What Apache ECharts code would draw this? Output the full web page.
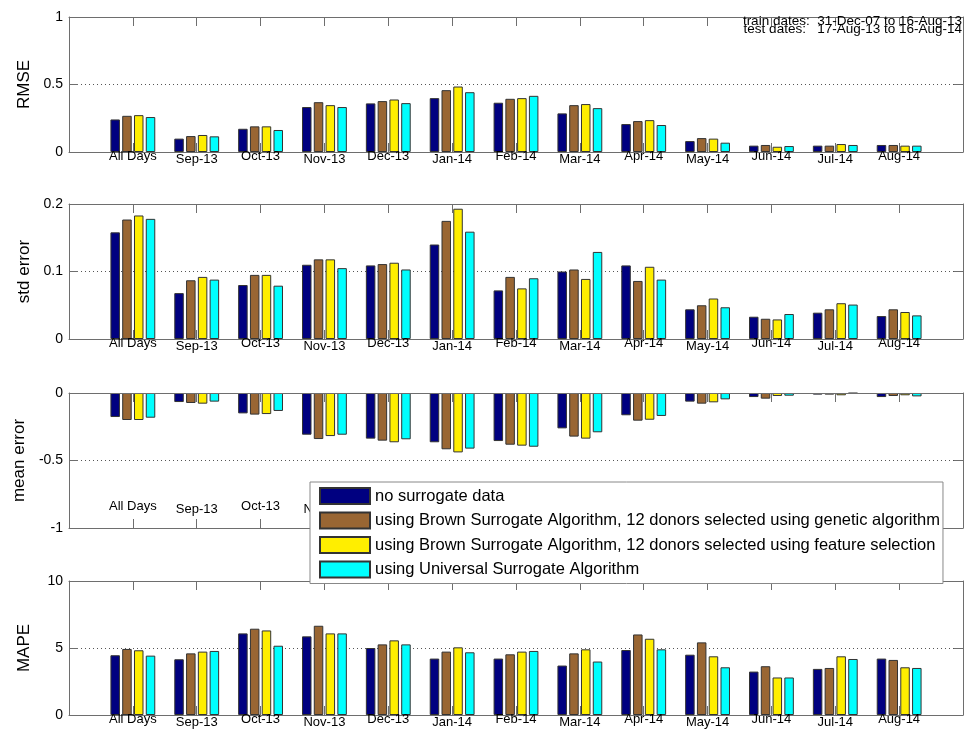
<!DOCTYPE html>
<html>
<head>
<meta charset="utf-8">
<script src="https://cdn.jsdelivr.net/npm/echarts@6/dist/echarts.min.js"></script>
<style>
  html, body { margin: 0; padding: 0; background: #fff; }
  #chart { width: 966px; height: 729px; }
</style>
</head>
<body>
<div id="chart"></div>
<script>
var categories = ['All Days', 'Sep-13', 'Oct-13', 'Nov-13', 'Dec-13', 'Jan-14', 'Feb-14',
    'Mar-14', 'Apr-14', 'May-14', 'Jun-14', 'Jul-14', 'Aug-14'];
var seriesNames = [
    'no surrogate data',
    'using Brown Surrogate Algorithm, 12 donors selected using genetic algorithm',
    'using Brown Surrogate Algorithm, 12 donors selected using feature selection',
    'using Universal Surrogate Algorithm'
];
var seriesColors = ['#000080', '#996633', '#ffee00', '#00ffff'];

// RMSE
var rmseNone = [0.241, 0.099, 0.172, 0.333, 0.360, 0.399, 0.365, 0.286, 0.207, 0.081, 0.047, 0.047, 0.052];
var rmseBrownGA = [0.268, 0.118, 0.190, 0.369, 0.377, 0.458, 0.394, 0.347, 0.229, 0.103, 0.052, 0.047, 0.052];
var rmseBrownFS = [0.273, 0.126, 0.190, 0.347, 0.389, 0.485, 0.399, 0.355, 0.236, 0.099, 0.039, 0.059, 0.047];
var rmseUniversal = [0.259, 0.116, 0.163, 0.333, 0.362, 0.443, 0.416, 0.325, 0.200, 0.069, 0.044, 0.052, 0.047];

// std error
var stdNone = [0.158, 0.068, 0.080, 0.110, 0.109, 0.140, 0.072, 0.100, 0.109, 0.044, 0.033, 0.039, 0.034];
var stdBrownGA = [0.177, 0.087, 0.095, 0.118, 0.111, 0.175, 0.092, 0.103, 0.086, 0.050, 0.030, 0.044, 0.044];
var stdBrownFS = [0.183, 0.092, 0.095, 0.118, 0.113, 0.193, 0.075, 0.089, 0.107, 0.060, 0.029, 0.053, 0.040];
var stdUniversal = [0.178, 0.088, 0.079, 0.105, 0.103, 0.159, 0.090, 0.129, 0.088, 0.047, 0.037, 0.051, 0.035];

// mean error
var meanNone = [-0.178, -0.067, -0.151, -0.309, -0.338, -0.365, -0.356, -0.262, -0.165, -0.064, -0.030, -0.012, -0.030];
var meanBrownGA = [-0.200, -0.074, -0.160, -0.341, -0.353, -0.417, -0.383, -0.323, -0.205, -0.079, -0.042, -0.012, -0.022];
var meanBrownFS = [-0.200, -0.079, -0.156, -0.319, -0.365, -0.440, -0.390, -0.338, -0.198, -0.069, -0.022, -0.017, -0.017];
var meanUniversal = [-0.183, -0.064, -0.133, -0.309, -0.343, -0.412, -0.398, -0.291, -0.170, -0.047, -0.020, -0.003, -0.025];

// MAPE
var mapeNone = [4.46, 4.16, 6.09, 5.87, 5.00, 4.21, 4.21, 3.69, 4.85, 4.50, 3.24, 3.44, 4.21];
var mapeBrownGA = [4.93, 4.60, 6.44, 6.66, 5.27, 4.73, 4.53, 4.60, 6.01, 5.42, 3.64, 3.51, 4.11];
var mapeBrownFS = [4.83, 4.73, 6.31, 6.09, 5.57, 5.05, 4.73, 4.90, 5.69, 4.38, 2.80, 4.38, 3.56];
var mapeUniversal = [4.43, 4.78, 5.17, 6.09, 5.27, 4.68, 4.78, 3.99, 4.90, 3.56, 2.80, 4.18, 3.51];

var panels = [
    { name: 'RMSE', min: 0, max: 1, interval: 0.5, data: [rmseNone, rmseBrownGA, rmseBrownFS, rmseUniversal] },
    { name: 'std error', min: 0, max: 0.2, interval: 0.1, data: [stdNone, stdBrownGA, stdBrownFS, stdUniversal] },
    { name: 'mean error', min: -1, max: 0, interval: 0.5, data: [meanNone, meanBrownGA, meanBrownFS, meanUniversal], inside: true },
    { name: 'MAPE', min: 0, max: 10, interval: 5, data: [mapeNone, mapeBrownGA, mapeBrownFS, mapeUniversal] }
];
var gridTops = [17, 204, 393, 581];
var gridHeights = [135, 135, 135, 134];

var FONT = 'Liberation Sans, Arial, sans-serif';
var frameColor = '#6e6e6e';
// one empty slot at each end so the categories sit at 1..13 of a 0..14 axis
var axisCats = [''].concat(categories, ['']);

var grids = [], xAxes = [], yAxes = [], series = [];
panels.forEach(function (p, gi) {
    grids.push({ left: 69, right: 3, top: gridTops[gi], height: gridHeights[gi] });
    xAxes.push({
        type: 'category', gridIndex: gi, position: 'bottom', data: axisCats, boundaryGap: false, z: 3,
        axisLine: { onZero: false, lineStyle: { color: frameColor } },
        axisTick: { inside: true, length: 9, interval: 0, lineStyle: { color: frameColor } },
        axisLabel: {
            interval: 0, inside: !!p.inside, margin: p.inside ? 12 : -2.5, color: '#000',
            fontFamily: FONT, fontSize: 13,
            formatter: function (v, i) { return i % 2 ? '{a|' + v + '}' : '{b|' + v + '}'; },
            rich: {
                a: { fontFamily: FONT, fontSize: 13, color: '#000', padding: [0, 0, 3, 0] },
                b: { fontFamily: FONT, fontSize: 13, color: '#000', padding: [3, 0, 0, 0] }
            }
        },
        splitLine: { show: false }
    });
    xAxes.push({
        type: 'category', gridIndex: gi, position: 'top', data: axisCats, boundaryGap: false, z: 3,
        axisLine: { onZero: false, lineStyle: { color: frameColor } },
        axisTick: { inside: true, length: 9, interval: 0, lineStyle: { color: frameColor } },
        axisLabel: { show: false },
        splitLine: { show: false }
    });
    yAxes.push({
        type: 'value', gridIndex: gi, position: 'left', min: p.min, max: p.max, interval: p.interval,
        name: p.name, nameLocation: 'middle', nameGap: 36, nameRotate: 90,
        nameTextStyle: { fontFamily: FONT, fontSize: 17, color: '#000' },
        axisLine: { show: true, onZero: false, lineStyle: { color: frameColor } },
        axisTick: { show: true, inside: true, length: 9, lineStyle: { color: frameColor } },
        axisLabel: { fontFamily: FONT, fontSize: 14, color: '#000', margin: 6 },
        splitLine: { show: true, lineStyle: { color: '#555', type: [1, 3], width: 1 } }
    });
    yAxes.push({
        type: 'value', gridIndex: gi, position: 'right', min: p.min, max: p.max, interval: p.interval,
        axisLine: { show: true, onZero: false, lineStyle: { color: frameColor } },
        axisTick: { show: true, inside: true, length: 9, lineStyle: { color: frameColor } },
        axisLabel: { show: false },
        splitLine: { show: false }
    });
    p.data.forEach(function (vals, si) {
        series.push({
            name: seriesNames[si],
            type: 'bar',
            xAxisIndex: gi * 2,
            yAxisIndex: gi * 2,
            data: [null].concat(vals, [null]),
            barWidth: 9.5,
            barGap: '24%',
            itemStyle: { color: seriesColors[si], borderColor: '#333', borderWidth: 1 },
            emphasis: { disabled: true },
            animation: false
        });
    });
});

var chart = echarts.init(document.getElementById('chart'));
chart.setOption({
    backgroundColor: '#fff',
    animation: false,
    grid: grids,
    xAxis: xAxes,
    yAxis: yAxes,
    legend: {
        data: seriesNames,
        orient: 'vertical',
        left: 310,
        top: 482,
        z: 20,
        icon: 'rect',
        itemWidth: 50,
        itemHeight: 16,
        itemGap: 6.5,
        padding: [5, 3, 5, 9],
        backgroundColor: '#fff',
        borderColor: '#888',
        borderWidth: 1,
        borderRadius: 0,
        selectedMode: false,
        textStyle: { fontFamily: FONT, fontSize: 16.5, color: '#000' }
    },
    graphic: [
        { type: 'text', right: 4, top: 14.5, z: 20,
          style: { text: 'train dates:  31-Dec-07 to 16-Aug-13', font: '13.5px ' + FONT, fill: '#000' } },
        { type: 'text', right: 4, top: 22.5, z: 20,
          style: { text: 'test dates:   17-Aug-13 to 16-Aug-14', font: '13.5px ' + FONT, fill: '#000' } }
    ],
    series: series
});
</script>
</body>
</html>
